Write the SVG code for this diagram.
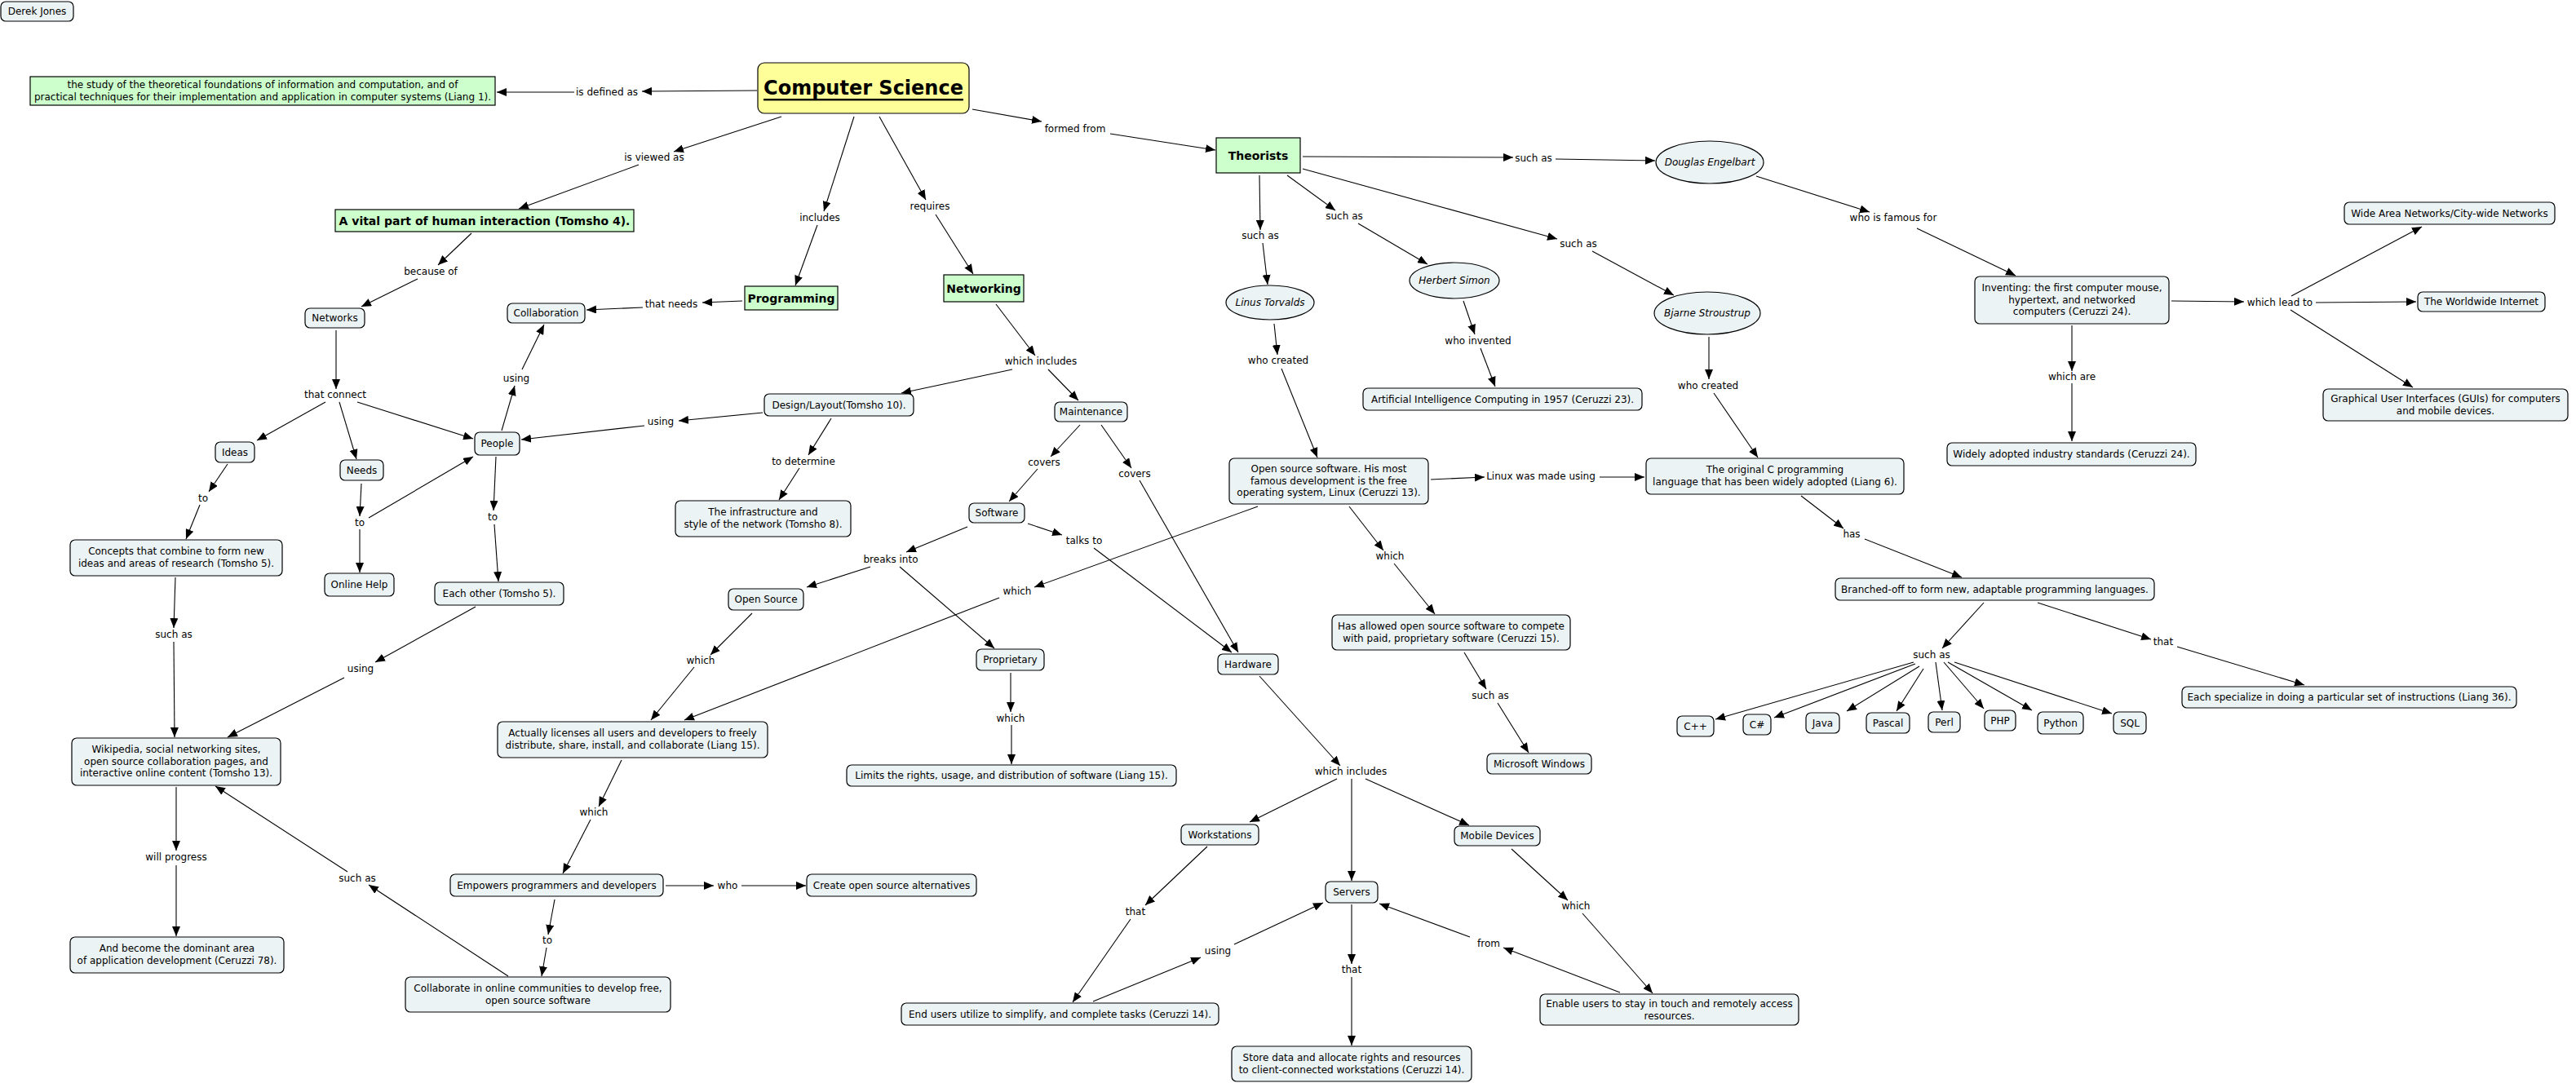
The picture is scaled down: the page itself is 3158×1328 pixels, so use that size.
<svg xmlns="http://www.w3.org/2000/svg" width="3158" height="1328" viewBox="0 0 3158 1328">
<style>
.n{fill:#ECF3F5;stroke:#000;stroke-width:1.2}
.g{fill:#CCFFCC;stroke:#000;stroke-width:1.2}
.y{fill:#FFFF99;stroke:#000;stroke-width:1.2}
text{font-family:'DejaVu Sans',Verdana,sans-serif;font-size:12px;text-anchor:middle;dominant-baseline:central;fill:#000}
.b{font-weight:bold;font-size:14px}
.i{font-style:italic}
.cs{font-weight:bold;font-size:24px;text-decoration:underline}
#conn line{stroke:#000;stroke-width:1.1;marker-end:url(#ah)}
</style>
<defs>
<marker id="ah" viewBox="0 0 12 10" refX="12" refY="5" markerWidth="12" markerHeight="10" markerUnits="userSpaceOnUse" orient="auto"><path d="M0,0 L12,5 L0,10 z" fill="#000"/></marker>
</defs>
<rect width="3158" height="1328" fill="#fff"/>
<g id="conn">
<line x1="928" y1="111" x2="787" y2="112"/>
<line x1="704" y1="113" x2="609" y2="113"/>
<line x1="958" y1="143" x2="826" y2="186"/>
<line x1="783" y1="202" x2="636" y2="256"/>
<line x1="578" y1="286" x2="537" y2="325"/>
<line x1="512" y1="342" x2="443" y2="376"/>
<line x1="412" y1="405" x2="412" y2="477"/>
<line x1="399" y1="493" x2="315" y2="540"/>
<line x1="416" y1="493" x2="437" y2="563"/>
<line x1="438" y1="493" x2="580" y2="538"/>
<line x1="279" y1="569" x2="256" y2="603"/>
<line x1="245" y1="619" x2="228" y2="661"/>
<line x1="443" y1="593" x2="441" y2="633"/>
<line x1="441" y1="649" x2="441" y2="702"/>
<line x1="452" y1="635" x2="580" y2="560"/>
<line x1="615" y1="528" x2="631" y2="473"/>
<line x1="640" y1="453" x2="667" y2="398"/>
<line x1="608" y1="560" x2="605" y2="626"/>
<line x1="606" y1="643" x2="611" y2="713"/>
<line x1="583" y1="744" x2="460" y2="812"/>
<line x1="422" y1="831" x2="279" y2="904"/>
<line x1="215" y1="708" x2="213" y2="770"/>
<line x1="213" y1="787" x2="214" y2="904"/>
<line x1="216" y1="965" x2="216" y2="1043"/>
<line x1="216" y1="1061" x2="216" y2="1148"/>
<line x1="623" y1="1197" x2="452" y2="1085"/>
<line x1="426" y1="1069" x2="264" y2="964"/>
<line x1="762" y1="932" x2="734" y2="989"/>
<line x1="724" y1="1005" x2="690" y2="1071"/>
<line x1="680" y1="1103" x2="672" y2="1146"/>
<line x1="670" y1="1162" x2="664" y2="1197"/>
<line x1="816" y1="1086" x2="875" y2="1086"/>
<line x1="909" y1="1086" x2="988" y2="1086"/>
<line x1="1047" y1="143" x2="1010" y2="259"/>
<line x1="1002" y1="276" x2="975" y2="350"/>
<line x1="910" y1="369" x2="861" y2="371"/>
<line x1="788" y1="377" x2="719" y2="380"/>
<line x1="1078" y1="143" x2="1135" y2="245"/>
<line x1="1147" y1="263" x2="1193" y2="336"/>
<line x1="1221" y1="373" x2="1269" y2="436"/>
<line x1="1241" y1="453" x2="1105" y2="482"/>
<line x1="1285" y1="453" x2="1322" y2="491"/>
<line x1="935" y1="506" x2="832" y2="516"/>
<line x1="790" y1="522" x2="639" y2="539"/>
<line x1="1019" y1="513" x2="991" y2="558"/>
<line x1="980" y1="574" x2="955" y2="613"/>
<line x1="1324" y1="521" x2="1288" y2="560"/>
<line x1="1272" y1="575" x2="1237" y2="615"/>
<line x1="1350" y1="521" x2="1387" y2="574"/>
<line x1="1397" y1="589" x2="1518" y2="800"/>
<line x1="1260" y1="642" x2="1302" y2="656"/>
<line x1="1341" y1="672" x2="1510" y2="800"/>
<line x1="1186" y1="646" x2="1111" y2="677"/>
<line x1="1067" y1="695" x2="989" y2="720"/>
<line x1="1103" y1="695" x2="1219" y2="795"/>
<line x1="922" y1="752" x2="871" y2="803"/>
<line x1="851" y1="818" x2="798" y2="883"/>
<line x1="1542" y1="621" x2="1268" y2="720"/>
<line x1="1225" y1="733" x2="839" y2="883"/>
<line x1="1239" y1="825" x2="1239" y2="873"/>
<line x1="1240" y1="889" x2="1240" y2="937"/>
<line x1="1544" y1="829" x2="1643" y2="939"/>
<line x1="1639" y1="955" x2="1532" y2="1008"/>
<line x1="1657" y1="955" x2="1657" y2="1080"/>
<line x1="1674" y1="955" x2="1801" y2="1012"/>
<line x1="1480" y1="1038" x2="1404" y2="1110"/>
<line x1="1386" y1="1127" x2="1315" y2="1229"/>
<line x1="1340" y1="1228" x2="1472" y2="1174"/>
<line x1="1513" y1="1158" x2="1622" y2="1107"/>
<line x1="1853" y1="1041" x2="1922" y2="1104"/>
<line x1="1940" y1="1120" x2="2026" y2="1218"/>
<line x1="1986" y1="1217" x2="1843" y2="1162"/>
<line x1="1802" y1="1149" x2="1691" y2="1108"/>
<line x1="1657" y1="1109" x2="1657" y2="1182"/>
<line x1="1657" y1="1198" x2="1657" y2="1282"/>
<line x1="1192" y1="134" x2="1277" y2="149"/>
<line x1="1361" y1="164" x2="1490" y2="184"/>
<line x1="1544" y1="215" x2="1545" y2="282"/>
<line x1="1548" y1="298" x2="1554" y2="349"/>
<line x1="1562" y1="397" x2="1566" y2="435"/>
<line x1="1571" y1="452" x2="1615" y2="561"/>
<line x1="1754" y1="588" x2="1820" y2="585"/>
<line x1="1961" y1="585" x2="2016" y2="585"/>
<line x1="1654" y1="621" x2="1696" y2="675"/>
<line x1="1709" y1="691" x2="1759" y2="753"/>
<line x1="1795" y1="800" x2="1822" y2="845"/>
<line x1="1836" y1="862" x2="1874" y2="923"/>
<line x1="1597" y1="192" x2="1855" y2="193"/>
<line x1="1907" y1="195" x2="2029" y2="197"/>
<line x1="1578" y1="215" x2="1637" y2="258"/>
<line x1="1665" y1="274" x2="1750" y2="324"/>
<line x1="1794" y1="369" x2="1808" y2="410"/>
<line x1="1815" y1="427" x2="1833" y2="474"/>
<line x1="1597" y1="207" x2="1909" y2="293"/>
<line x1="1952" y1="308" x2="2052" y2="362"/>
<line x1="2095" y1="413" x2="2095" y2="465"/>
<line x1="2101" y1="482" x2="2155" y2="561"/>
<line x1="2153" y1="216" x2="2292" y2="260"/>
<line x1="2350" y1="280" x2="2471" y2="338"/>
<line x1="2662" y1="369" x2="2751" y2="370"/>
<line x1="2809" y1="363" x2="2969" y2="278"/>
<line x1="2839" y1="371" x2="2962" y2="370"/>
<line x1="2808" y1="380" x2="2958" y2="475"/>
<line x1="2540" y1="399" x2="2540" y2="455"/>
<line x1="2540" y1="470" x2="2540" y2="541"/>
<line x1="2208" y1="608" x2="2260" y2="648"/>
<line x1="2286" y1="661" x2="2405" y2="708"/>
<line x1="2432" y1="739" x2="2381" y2="795"/>
<line x1="2498" y1="739" x2="2637" y2="784"/>
<line x1="2669" y1="793" x2="2825" y2="840"/>
<line x1="2346" y1="812" x2="2103" y2="882"/>
<line x1="2348" y1="814" x2="2175" y2="880"/>
<line x1="2353" y1="817" x2="2264" y2="872"/>
<line x1="2358" y1="820" x2="2325" y2="872"/>
<line x1="2373" y1="812" x2="2381" y2="871"/>
<line x1="2383" y1="812" x2="2432" y2="869"/>
<line x1="2388" y1="812" x2="2491" y2="871"/>
<line x1="2396" y1="812" x2="2589" y2="875"/>
</g>
<g id="labels">
<text x="744" y="113">is defined as</text>
<text x="802" y="193">is viewed as</text>
<text x="528" y="333">because of</text>
<text x="823" y="373">that needs</text>
<text x="1005" y="267">includes</text>
<text x="1140" y="253">requires</text>
<text x="1276" y="443">which includes</text>
<text x="1318" y="158">formed from</text>
<text x="1545" y="289">such as</text>
<text x="1567" y="442">who created</text>
<text x="1880" y="194">such as</text>
<text x="1648" y="265">such as</text>
<text x="1812" y="418">who invented</text>
<text x="1935" y="299">such as</text>
<text x="2094" y="473">who created</text>
<text x="2321" y="267">who is famous for</text>
<text x="2795" y="371">which lead to</text>
<text x="2540" y="462">which are</text>
<text x="411" y="484">that connect</text>
<text x="633" y="464">using</text>
<text x="249" y="611">to</text>
<text x="441" y="641">to</text>
<text x="604" y="634">to</text>
<text x="442" y="820">using</text>
<text x="213" y="778">such as</text>
<text x="216" y="1051">will progress</text>
<text x="438" y="1077">such as</text>
<text x="728" y="996">which</text>
<text x="671" y="1153">to</text>
<text x="892" y="1086">who</text>
<text x="810" y="517">using</text>
<text x="985" y="566">to determine</text>
<text x="1280" y="567">covers</text>
<text x="1391" y="581">covers</text>
<text x="1329" y="663">talks to</text>
<text x="1092" y="686">breaks into</text>
<text x="1247" y="725">which</text>
<text x="859" y="810">which</text>
<text x="1239" y="881">which</text>
<text x="1656" y="946">which includes</text>
<text x="1392" y="1118">that</text>
<text x="1493" y="1166">using</text>
<text x="1932" y="1111">which</text>
<text x="1825" y="1157">from</text>
<text x="1657" y="1189">that</text>
<text x="1889" y="584">Linux was made using</text>
<text x="1704" y="682">which</text>
<text x="1827" y="853">such as</text>
<text x="2270" y="655">has</text>
<text x="2368" y="803">such as</text>
<text x="2652" y="787">that</text>
</g>
<g id="derek"><rect class="n" x="1" y="2" width="89" height="24" rx="6"/><text x="45.5" y="14">Derek Jones</text></g>
<g id="definition"><rect class="g" x="37" y="94" width="570" height="35"/><text x="322" y="104">the study of the theoretical foundations of information and computation, and of</text><text x="322" y="119">practical techniques for their implementation and application in computer systems (Liang 1).</text></g>
<g id="cs"><rect class="y" x="929" y="77" width="259" height="62" rx="8"/><text class="cs" x="1058.5" y="108">Computer Science</text></g>
<g id="vital"><rect class="g" x="411" y="257" width="366" height="27"/><text class="b" x="594" y="270.5">A vital part of human interaction (Tomsho 4).</text></g>
<g id="networks"><rect class="n" x="374" y="378" width="73" height="24" rx="6"/><text x="410.5" y="390">Networks</text></g>
<g id="collaboration"><rect class="n" x="622" y="372" width="95" height="24" rx="6"/><text x="669.5" y="384">Collaboration</text></g>
<g id="programming"><rect class="g" x="913" y="351" width="114" height="29"/><text class="b" x="970" y="365.5">Programming</text></g>
<g id="networking"><rect class="g" x="1157" y="337" width="98" height="33"/><text class="b" x="1206" y="353.5">Networking</text></g>
<g id="theorists"><rect class="g" x="1491" y="169" width="103" height="43"/><text class="b" x="1542.5" y="190.5">Theorists</text></g>
<g id="linus"><ellipse class="n" cx="1557" cy="371" rx="54" ry="21"/><text class="i" x="1557" y="371">Linus Torvalds</text></g>
<g id="herbert"><ellipse class="n" cx="1783" cy="344" rx="55" ry="22"/><text class="i" x="1783" y="344">Herbert Simon</text></g>
<g id="douglas"><ellipse class="n" cx="2096" cy="199" rx="66" ry="26"/><text class="i" x="2096" y="199">Douglas Engelbart</text></g>
<g id="bjarne"><ellipse class="n" cx="2093" cy="384" rx="65" ry="26"/><text class="i" x="2093" y="384">Bjarne Stroustrup</text></g>
<g id="inventing"><rect class="n" x="2421" y="339" width="238" height="58" rx="6"/><text x="2540" y="353">Inventing: the first computer mouse,</text><text x="2540" y="368">hypertext, and networked</text><text x="2540" y="382">computers (Ceruzzi 24).</text></g>
<g id="wan"><rect class="n" x="2874" y="248" width="258" height="27" rx="6"/><text x="3003" y="261.5">Wide Area Networks/City-wide Networks</text></g>
<g id="internet"><rect class="n" x="2964" y="358" width="156" height="24" rx="6"/><text x="3042" y="370">The Worldwide Internet</text></g>
<g id="gui"><rect class="n" x="2848" y="477" width="300" height="39" rx="6"/><text x="2998" y="489">Graphical User Interfaces (GUIs) for computers</text><text x="2998" y="504">and mobile devices.</text></g>
<g id="widely"><rect class="n" x="2387" y="543" width="305" height="28" rx="6"/><text x="2539.5" y="557">Widely adopted industry standards (Ceruzzi 24).</text></g>
<g id="ideas"><rect class="n" x="264" y="542" width="48" height="25" rx="6"/><text x="288" y="554.5">Ideas</text></g>
<g id="needs"><rect class="n" x="417" y="564" width="53" height="25" rx="6"/><text x="443.5" y="576.5">Needs</text></g>
<g id="people"><rect class="n" x="582" y="530" width="55" height="28" rx="6"/><text x="609.5" y="544">People</text></g>
<g id="concepts"><rect class="n" x="86" y="662" width="260" height="44" rx="6"/><text x="216" y="676">Concepts that combine to form new</text><text x="216" y="691">ideas and areas of research (Tomsho 5).</text></g>
<g id="onlinehelp"><rect class="n" x="398" y="703" width="85" height="28" rx="6"/><text x="440.5" y="717">Online Help</text></g>
<g id="eachother"><rect class="n" x="533" y="714" width="158" height="28" rx="6"/><text x="612" y="728">Each other (Tomsho 5).</text></g>
<g id="wikipedia"><rect class="n" x="88" y="905" width="256" height="58" rx="6"/><text x="216" y="919">Wikipedia, social networking sites,</text><text x="216" y="933.5">open source collaboration pages, and</text><text x="216" y="948">interactive online content (Tomsho 13).</text></g>
<g id="dominant"><rect class="n" x="86" y="1149" width="262" height="44" rx="6"/><text x="217" y="1163">And become the dominant area</text><text x="217" y="1178">of application development (Ceruzzi 78).</text></g>
<g id="licenses"><rect class="n" x="610" y="885" width="331" height="44" rx="6"/><text x="775.5" y="899">Actually licenses all users and developers to freely</text><text x="775.5" y="914">distribute, share, install, and collaborate (Liang 15).</text></g>
<g id="empowers"><rect class="n" x="552" y="1072" width="261" height="27" rx="6"/><text x="682.5" y="1085.5">Empowers programmers and developers</text></g>
<g id="collaborate"><rect class="n" x="497" y="1198" width="325" height="43" rx="6"/><text x="659.5" y="1212">Collaborate in online communities to develop free,</text><text x="659.5" y="1227">open source software</text></g>
<g id="design"><rect class="n" x="937" y="483" width="183" height="27" rx="6"/><text x="1028.5" y="496.5">Design/Layout(Tomsho 10).</text></g>
<g id="maintenance"><rect class="n" x="1293" y="493" width="89" height="24" rx="6"/><text x="1337.5" y="505">Maintenance</text></g>
<g id="infrastructure"><rect class="n" x="828" y="614" width="215" height="44" rx="6"/><text x="935.5" y="628">The infrastructure and</text><text x="935.5" y="643">style of the network (Tomsho 8).</text></g>
<g id="software"><rect class="n" x="1188" y="617" width="68" height="24" rx="6"/><text x="1222" y="629">Software</text></g>
<g id="hardware"><rect class="n" x="1493" y="802" width="74" height="25" rx="6"/><text x="1530" y="814.5">Hardware</text></g>
<g id="opensource"><rect class="n" x="893" y="722" width="92" height="26" rx="6"/><text x="939" y="735">Open Source</text></g>
<g id="proprietary"><rect class="n" x="1197" y="796" width="83" height="26" rx="6"/><text x="1238.5" y="809">Proprietary</text></g>
<g id="limits"><rect class="n" x="1038" y="938" width="404" height="26" rx="6"/><text x="1240" y="951">Limits the rights, usage, and distribution of software (Liang 15).</text></g>
<g id="create"><rect class="n" x="989" y="1072" width="208" height="27" rx="6"/><text x="1093" y="1085.5">Create open source alternatives</text></g>
<g id="workstations"><rect class="n" x="1448" y="1011" width="95" height="25" rx="6"/><text x="1495.5" y="1023.5">Workstations</text></g>
<g id="endusers"><rect class="n" x="1105" y="1230" width="389" height="27" rx="6"/><text x="1299.5" y="1243.5">End users utilize to simplify, and complete tasks (Ceruzzi 14).</text></g>
<g id="storedata"><rect class="n" x="1510" y="1283" width="294" height="43" rx="6"/><text x="1657" y="1297">Store data and allocate rights and resources</text><text x="1657" y="1312">to client-connected workstations (Ceruzzi 14).</text></g>
<g id="servers"><rect class="n" x="1625" y="1081" width="64" height="26" rx="6"/><text x="1657" y="1094">Servers</text></g>
<g id="mobile"><rect class="n" x="1783" y="1013" width="105" height="24" rx="6"/><text x="1835.5" y="1025">Mobile Devices</text></g>
<g id="enable"><rect class="n" x="1888" y="1219" width="317" height="38" rx="6"/><text x="2046.5" y="1231">Enable users to stay in touch and remotely access</text><text x="2046.5" y="1246">resources.</text></g>
<g id="windows"><rect class="n" x="1823" y="924" width="128" height="25" rx="6"/><text x="1887" y="936.5">Microsoft Windows</text></g>
<g id="opensw"><rect class="n" x="1507" y="562" width="244" height="56" rx="6"/><text x="1629" y="575">Open source software.  His most</text><text x="1629" y="589.5">famous development is the free</text><text x="1629" y="604">operating system, Linux (Ceruzzi 13).</text></g>
<g id="originalc"><rect class="n" x="2018" y="562" width="316" height="44" rx="6"/><text x="2176" y="576">The original C programming</text><text x="2176" y="591">language that has been widely adopted (Liang 6).</text></g>
<g id="ai"><rect class="n" x="1671" y="476" width="342" height="27" rx="6"/><text x="1842" y="489.5">Artificial Intelligence Computing in 1957 (Ceruzzi 23).</text></g>
<g id="hasallowed"><rect class="n" x="1633" y="754" width="292" height="43" rx="6"/><text x="1779" y="768">Has allowed open source software to compete</text><text x="1779" y="782.5">with paid, proprietary software (Ceruzzi 15).</text></g>
<g id="branched"><rect class="n" x="2250" y="709" width="391" height="27" rx="6"/><text x="2445.5" y="722.5">Branched-off to form new, adaptable programming languages.</text></g>
<g id="specialize"><rect class="n" x="2675" y="842" width="410" height="26" rx="6"/><text x="2880" y="855">Each specialize in doing a particular set of instructions (Liang 36).</text></g>
<g id="cpp"><rect class="n" x="2056" y="878" width="45" height="25" rx="6"/><text x="2078.5" y="890.5">C++</text></g>
<g id="csharp"><rect class="n" x="2137" y="876" width="34" height="25" rx="6"/><text x="2154" y="888.5">C#</text></g>
<g id="java"><rect class="n" x="2214" y="874" width="41" height="25" rx="6"/><text x="2234.5" y="886.5">Java</text></g>
<g id="pascal"><rect class="n" x="2288" y="874" width="53" height="25" rx="6"/><text x="2314.5" y="886.5">Pascal</text></g>
<g id="perl"><rect class="n" x="2364" y="873" width="39" height="25" rx="6"/><text x="2383.5" y="885.5">Perl</text></g>
<g id="php"><rect class="n" x="2433" y="871" width="38" height="25" rx="6"/><text x="2452" y="883.5">PHP</text></g>
<g id="python"><rect class="n" x="2498" y="873" width="56" height="27" rx="6"/><text x="2526" y="886.5">Python</text></g>
<g id="sql"><rect class="n" x="2591" y="873" width="40" height="27" rx="6"/><text x="2611" y="886.5">SQL</text></g>
</svg>
